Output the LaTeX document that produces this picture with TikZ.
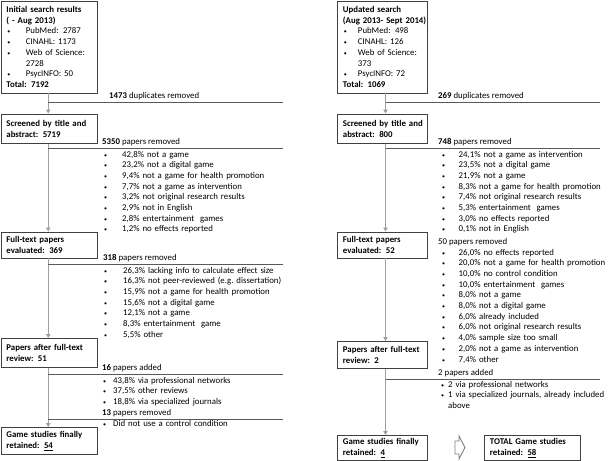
\documentclass[tikz,border=0pt]{standalone}
\usepackage{fontspec}
\setmainfont{Carlito}
\usetikzlibrary{arrows.meta}
\definecolor{boxc}{HTML}{404040}
\definecolor{connc}{HTML}{A0A0A0}
\definecolor{hlinec}{HTML}{595959}
\definecolor{blkc}{HTML}{7F7F7F}
\newcommand\bul{{\fontsize{6}{6}\selectfont •}}
\newcommand\bl[2]{\makebox[#1][l]{\bul}#2}
\newcommand\bbx[2]{{\mdseries\makebox[#1][l]{\hspace{1pt}\bul}#2}}
\begin{document}
\begin{tikzpicture}[x=1pt,y=-1pt,
  font=\fontsize{8.8}{10.7}\selectfont,
  box/.style={draw=boxc, line width=0.9pt, inner xsep=5.5pt, inner ysep=0pt,
    anchor=north west, align=left, font=\bfseries\fontsize{8.8}{10.7}\selectfont},
  lab/.style={anchor=base west, inner sep=0pt},
  lst/.style={anchor=base west, inner sep=0pt, text width=220pt, align=left},
  conn/.style={draw=connc, line width=0.9pt, -{Triangle[length=4pt,width=4.5pt]}},
  hl/.style={draw=hlinec, line width=0.9pt}]
\useasboundingbox (0,0) rectangle (614,461);

% ---------- left column ----------
\coordinate (lx) at (48.25,0);
\node[box, text width=85pt, minimum height=92pt] (l1) at (0.5,0.5)
  {Initial search results\\( - Aug 2013)\\
   \bbx{19.5pt}{PubMed: 2787}\\
   \bbx{19.5pt}{CINAHL: 1173}\\
   \bbx{19.5pt}{Web of Science:}\\
   {\mdseries\hspace*{19.5pt}2728}\\
   \bbx{19.5pt}{PsycINFO: 50}\\
   Total: 7192};
\node[box, text width=85pt, minimum height=29.5pt] (l2) at (0.5,113.5)
  {Screened by title and\\abstract: 5719};
\node[box, text width=85pt, minimum height=26pt] (l3) at (0.5,231.5)
  {Full-text papers\\evaluated: 369};
\node[box, text width=85pt, minimum height=29pt] (l4) at (0.5,338)
  {Papers after full-text\\review: 51};
\node[box, text width=85pt, minimum height=27pt] (l5) at (0.5,427)
  {Game studies finally\\retained: \underline{54}};

\draw[conn] (l1.south -| lx) -- (l2.north -| lx);
\draw[conn] (l2.south -| lx) -- (l3.north -| lx);
\draw[conn] (l3.south -| lx) -- (l4.north -| lx);
\draw[conn] (l4.south -| lx) -- (l5.north -| lx);

\coordinate (la1) at (48.25,102); \coordinate (lb1) at (283,102);
\coordinate (la2) at (48.25,148); \coordinate (lb2) at (283,148);
\coordinate (la3) at (48.25,264); \coordinate (lb3) at (283,264);
\coordinate (la4) at (48.25,374); \coordinate (lb4) at (283,374);
\coordinate (la5) at (48.25,419); \coordinate (lb5) at (283,419);
\draw[hl] (la1) -- (lb1);
\draw[hl] (la2) -- (lb2);
\draw[hl] (la3) -- (lb3);
\draw[hl] (la4) -- (lb4);
\draw[hl] (la5) -- (lb5);

\node[lab] (ld) at (109,98) {\textbf{1473} duplicates removed};
\node[lab] (lr1) at (102,144) {\textbf{5350} papers removed};
\node[lst] (lr1i) at (104,157)
  {\bl{18pt}{42,8\% not a game}\\
   \bl{18pt}{23,2\% not a digital game}\\
   \bl{18pt}{9,4\% not a game for health promotion}\\
   \bl{18pt}{7,7\% not a game as intervention}\\
   \bl{18pt}{3,2\% not original research results}\\
   \bl{18pt}{2,9\% not in English}\\
   \bl{18pt}{2,8\% entertainment\ \ games}\\
   \bl{18pt}{1,2\% no effects\ reported}};
\node[lab] (lr2) at (103,260) {\textbf{318} papers removed};
\node[lst] (lr2i) at (104,273)
  {\bl{19pt}{26,3\% lacking info to calculate effect size}\\
   \bl{19pt}{16,3\% not peer-reviewed\ (e.g.\ dissertation)}\\
   \bl{19pt}{15,9\% not a game for health promotion}\\
   \bl{19pt}{15,6\% not a digital game}\\
   \bl{19pt}{12,1\% not a game}\\
   \bl{19pt}{8,3\% entertainment\ \ game}\\
   \bl{19pt}{5,5\% other}};
\node[lab] (la) at (102,370) {\textbf{16} papers added};
\node[lst] (lai) at (103,383)
  {\bl{10pt}{43,8\% via professional networks}\\
   \bl{10pt}{37,5\% other\ reviews}\\
   \bl{10pt}{18,8\% via specialized journals}};
\node[lab] (lr3) at (102,415) {\textbf{13} papers removed};
\node[lst] (lr3i) at (103,426)
  {\bl{10pt}{Did not use a control condition}};

% ---------- right column ----------
\coordinate (rx) at (385.5,0);
\node[box, text width=79pt, minimum height=92pt] (r1) at (337,0.5)
  {\mbox{Updated search}\\\mbox{(Aug 2013- Sept 2014)}\\
   \bbx{15pt}{PubMed: 498}\\
   \bbx{15pt}{CINAHL:\ 126}\\
   \bbx{15pt}{Web of Science:}\\
   {\mdseries\hspace*{15pt}373}\\
   \bbx{15pt}{PsycINFO: 72}\\
   Total: 1069};
\node[box, text width=79pt, minimum height=29.5pt] (r2) at (337,113.5)
  {\mbox{Screened by title and}\\\mbox{abstract: 800}};
\node[box, text width=79pt, minimum height=26pt] (r3) at (337,231.5)
  {\mbox{Full-text papers}\\\mbox{evaluated: 52}};
\node[box, text width=79pt, minimum height=27pt] (r4) at (337,341)
  {\mbox{Papers after full-text}\\\mbox{review: 2}};
\node[box, text width=79pt, minimum height=25pt] (r5) at (337,435)
  {\mbox{Game studies finally}\\\mbox{retained: \underline{4}}};
\node[box, text width=85pt, minimum height=25pt] (tot) at (484,435)
  {\mbox{TOTAL Game studies}\\\mbox{retained: \underline{58}}};

\draw[conn] (r1.south -| rx) -- (r2.north -| rx);
\draw[conn] (r2.south -| rx) -- (r3.north -| rx);
\draw[conn] (r3.south -| rx) -- (r4.north -| rx);
\draw[conn] (r4.south -| rx) -- (r5.north -| rx);

\coordinate (ra1) at (385.5,102); \coordinate (rb1) at (600,102);
\coordinate (ra2) at (385.5,148); \coordinate (rb2) at (600,148);
\coordinate (ra3) at (385.5,379); \coordinate (rb3) at (600,379);
\draw[hl] (ra1) -- (rb1);
\draw[hl] (ra2) -- (rb2);
\draw[hl] (ra3) -- (rb3);

\node[lab] (rd) at (438,98) {\textbf{269} duplicates removed};
\node[lab] (rr1) at (438,144) {\textbf{748} papers removed};
\node[lst] (rr1i) at (442,157)
  {\bl{16.5pt}{24,1\% not a game as intervention}\\
   \bl{16.5pt}{23,5\% not a digital game}\\
   \bl{16.5pt}{21,9\% not a game}\\
   \bl{16.5pt}{8,3\% not a game for health promotion}\\
   \bl{16.5pt}{7,4\% not original research results}\\
   \bl{16.5pt}{5,3\% entertainment\ \ games}\\
   \bl{16.5pt}{3,0\% no effects\ reported}\\
   \bl{16.5pt}{0,1\% not in English}};
\node[lab] (rr2) at (438,244) {50 papers removed};
\node[lst] (rr2i) at (442,255)
  {\bl{16.5pt}{26,0\% no effects\ reported}\\
   \bl{16.5pt}{20,0\% not a game for health promotion}\\
   \bl{16.5pt}{10,0\% no control condition}\\
   \bl{16.5pt}{10,0\% entertainment\ \ games}\\
   \bl{16.5pt}{8,0\% not a game}\\
   \bl{16.5pt}{8,0\% not a digital game}\\
   \bl{16.5pt}{6,0\% already included}\\
   \bl{16.5pt}{6,0\% not original research results}\\
   \bl{16.5pt}{4,0\% sample size too small}\\
   \bl{16.5pt}{2,0\% not a game as intervention}\\
   \bl{16.5pt}{7,4\% other}};
\node[lab] (ra) at (438,375) {2 papers added};
\node[lst] (rai) at (441,387)
  {\bl{7pt}{2 via professional networks}\\
   \bl{7pt}{1 via specialized journals, already included}\\
   \hspace*{7pt}above};

\draw[blkc, line width=0.9pt, line join=miter]
  (455,441) -- (459,441) -- (459,436) -- (465,447.5) -- (459,459) -- (459,454) -- (455,454) -- cycle;
\end{tikzpicture}
\end{document}
